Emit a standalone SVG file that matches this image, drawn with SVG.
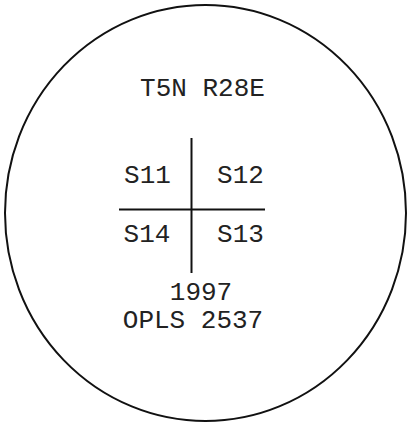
<svg xmlns="http://www.w3.org/2000/svg" width="409" height="422" viewBox="0 0 409 422">
<style>
text{font-family:"Liberation Mono","Courier New",monospace;font-size:26px;fill:#222;text-anchor:middle}
.ln{stroke:#111;stroke-width:2;fill:none}
</style>
<rect width="409" height="422" fill="#fff"/>
<g id="border"><ellipse cx="205.5" cy="213" rx="200.5" ry="208" class="ln" stroke-width="1.6"/></g>
<g id="connectors">
<line x1="191.5" y1="138" x2="191.5" y2="273" class="ln"/>
<line x1="119" y1="209.5" x2="265" y2="209.5" class="ln"/>
</g>
<g id="township"><text x="202.5" y="96">T5N R28E</text></g>
<g id="s11"><text x="147.5" y="183">S11</text></g>
<g id="s12"><text x="240.5" y="183">S12</text></g>
<g id="s14"><text x="147" y="242">S14</text></g>
<g id="s13"><text x="240.5" y="242">S13</text></g>
<g id="year"><text x="201" y="300">1997</text></g>
<g id="opls"><text x="193" y="328">OPLS 2537</text></g>
</svg>
